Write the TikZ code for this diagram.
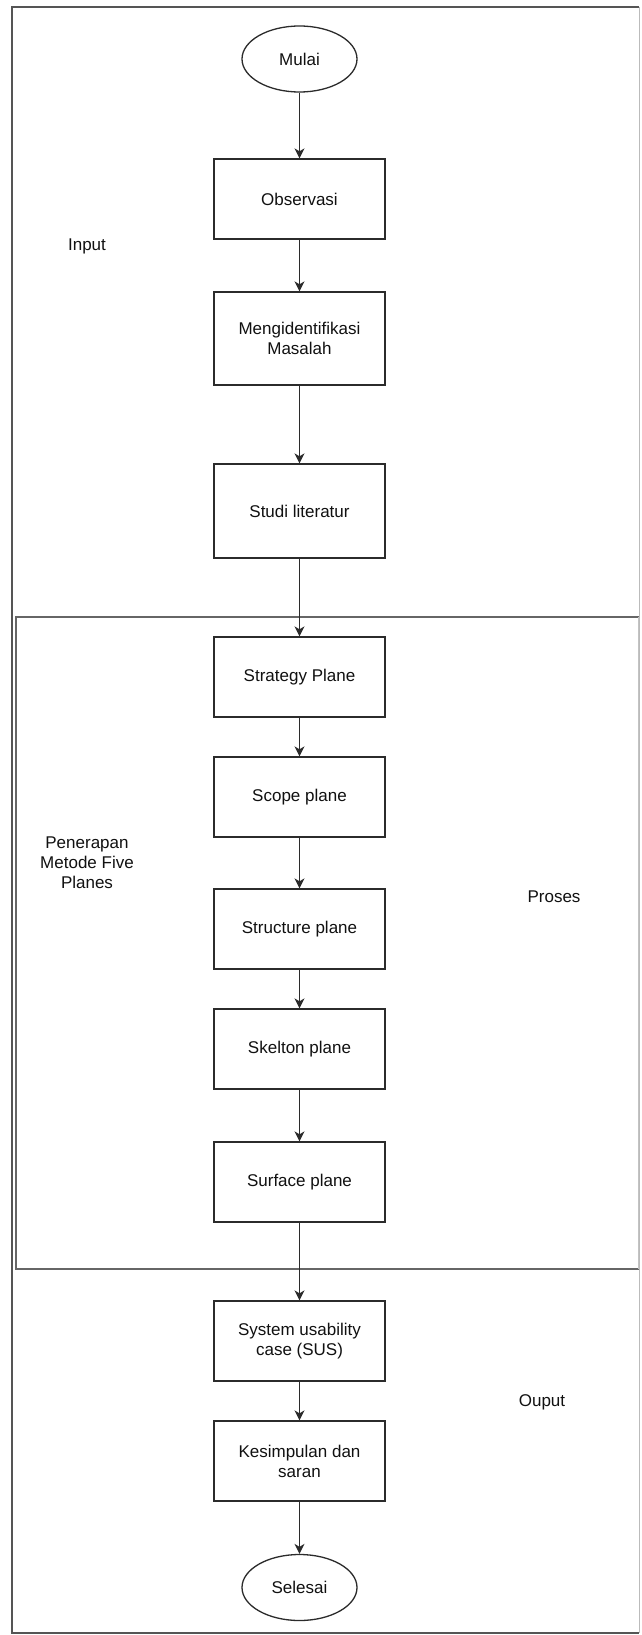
\documentclass[tikz,border=0pt]{standalone}
\usepackage{fontspec}
\setmainfont{Liberation Sans}
\usetikzlibrary{shapes.geometric,arrows.meta}
\definecolor{linec}{HTML}{2B2B2B}
\definecolor{framec}{HTML}{555555}
\definecolor{textc}{HTML}{111111}
\tikzset{
  lbl/.style={font=\fontsize{17}{20}\selectfont, text=textc, align=center, inner sep=0pt},
  stepbox/.style={lbl, draw=linec, line width=1.3pt, minimum width=171pt, minimum height=80pt},
  term/.style={lbl, ellipse, draw=linec, line width=1.3pt, minimum width=115pt, minimum height=66pt},
  arr/.style={draw=linec, line width=1.3pt, -{Stealth[length=10pt,width=10pt,inset=3pt]}},
  frame/.style={draw=framec, line width=1.4pt}
}
\begin{document}
\begin{tikzpicture}[x=1pt,y=-1pt]
\useasboundingbox (0,0) rectangle (641,1635);
\fill[white] (0,0) rectangle (641,1635);
% outer frame
\draw[frame] (639,7) -- (12,7) -- (12,1633) -- (639,1633);
\draw[draw=framec!40, line width=1pt] (639.5,7) -- (639.5,1633);
% process frame
\draw[draw=framec!90, line width=2pt] (639,617) -- (15.5,617) -- (15.5,1269) -- (639,1269);
\draw[draw=framec!35, line width=1pt] (638.5,617) -- (638.5,1269);

\node[term] (mulai) at (299.5,59) {Mulai};
\node[stepbox] (obs) at (299.5,199) {Observasi};
\node[stepbox, minimum height=93pt] (ident) at (299.5,338.5) {Mengidentifikasi\\Masalah};
\node[stepbox, minimum height=94pt] (studi) at (299.5,511) {Studi literatur};
\node[stepbox] (strat) at (299.5,677) {Strategy Plane};
\node[stepbox] (scope) at (299.5,797) {Scope plane};
\node[stepbox] (struct) at (299.5,929) {Structure plane};
\node[stepbox] (skel) at (299.5,1049) {Skelton plane};
\node[stepbox] (surf) at (299.5,1182) {Surface plane};
\node[stepbox] (sus) at (299.5,1341) {System usability\\case (SUS)};
\node[stepbox] (kes) at (299.5,1461) {Kesimpulan dan\\saran};
\node[term] (selesai) at (299.5,1587.5) {Selesai};

\node[lbl] (input) at (87,246) {Input};
\node[lbl] (pener) at (87,863) {Penerapan\\Metode Five\\Planes};
\node[lbl] (proses) at (554,897) {Proses};
\node[lbl] (ouput) at (542,1402) {Ouput};

\draw[arr] (mulai) -- (obs);
\draw[arr] (obs) -- (ident);
\draw[arr] (ident) -- (studi);
\draw[arr] (studi) -- (strat);
\draw[arr] (strat) -- (scope);
\draw[arr] (scope) -- (struct);
\draw[arr] (struct) -- (skel);
\draw[arr] (skel) -- (surf);
\draw[arr] (surf) -- (sus);
\draw[arr] (sus) -- (kes);
\draw[arr] (kes) -- (selesai);
\end{tikzpicture}
\end{document}
